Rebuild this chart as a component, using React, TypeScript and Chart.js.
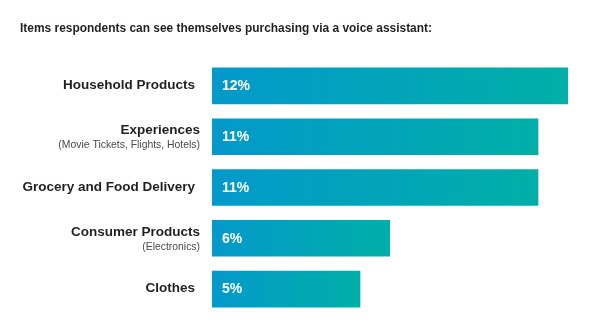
import React, { useEffect, useRef } from "react";
import { Chart, registerables } from "chart.js";

Chart.register(...registerables);

const title = "Items respondents can see themselves purchasing via a voice assistant:";
const categories = [
  "Household Products",
  "Experiences",
  "Grocery and Food Delivery",
  "Consumer Products",
  "Clothes",
];
const subLabels = ["", "(Movie Tickets, Flights, Hotels)", "", "(Electronics)", ""];
const values = [12, 11, 11, 6, 5];
const valueLabels = ["12%", "11%", "11%", "6%", "5%"];

const FONT = "'Liberation Sans', Arial, Helvetica, sans-serif";
const LEFT_COLOR = "#0399cb";
const RIGHT_COLOR = "#00afa7";

const textPlugin = {
  id: "textPlugin",
  afterDatasetsDraw(chart: any) {
    const ctx = chart.ctx as CanvasRenderingContext2D;
    const y = chart.scales.y;
    const x = chart.scales.x;
    ctx.save();
    // title
    ctx.fillStyle = "#231f20";
    ctx.font = `bold 13.5px ${FONT}`;
    ctx.textAlign = "left";
    ctx.textBaseline = "middle";
    ctx.fillText(title, 20, 28.5, 412);

    categories.forEach((cat, i) => {
      const cy = y.getPixelForValue(i);
      const sub = subLabels[i];
      ctx.textBaseline = "middle";
      ctx.textAlign = "right";
      if (sub) {
        ctx.fillStyle = "#231f20";
        ctx.font = `bold 13.5px ${FONT}`;
        ctx.fillText(cat, 200, cy - 6.5);
        ctx.fillStyle = "#4a4a4a";
        ctx.font = `10.4px ${FONT}`;
        ctx.fillText(sub, 200, cy + 8.5);
      } else {
        ctx.fillStyle = "#231f20";
        ctx.font = `bold 13.5px ${FONT}`;
        ctx.fillText(cat, 195, cy - 0.5);
      }
      // value label
      ctx.fillStyle = "#ffffff";
      ctx.font = `bold 14px ${FONT}`;
      ctx.textAlign = "left";
      ctx.fillText(valueLabels[i], x.getPixelForValue(0) + 10, cy + 0.5);
    });
    ctx.restore();
  },
};

export default function App() {
  const ref = useRef<HTMLCanvasElement>(null);
  useEffect(() => {
    document.body.style.margin = "0";
    const canvas = ref.current!;
    const chart = new Chart(canvas, {
      type: "bar",
      data: {
        labels: categories,
        datasets: [
          {
            data: values,
            backgroundColor: (c: any) => {
              const ch = c.chart;
              if (!ch.chartArea || c.dataIndex === undefined) return LEFT_COLOR;
              const xs = ch.scales.x;
              const x0 = xs.getPixelForValue(0);
              const x1 = xs.getPixelForValue(values[c.dataIndex]);
              if (!isFinite(x0) || !isFinite(x1) || x1 <= x0) return LEFT_COLOR;
              const g = ch.ctx.createLinearGradient(x0, 0, x1, 0);
              g.addColorStop(0, LEFT_COLOR);
              g.addColorStop(1, RIGHT_COLOR);
              return g;
            },
            borderWidth: 0,
            categoryPercentage: 0.72,
            barPercentage: 1,
          },
        ],
      },
      options: {
        indexAxis: "y",
        responsive: false,
        animation: false,
        layout: { padding: { left: 212, right: 32, top: 60.5, bottom: 12.5 } },
        plugins: {
          legend: { display: false },
          title: { display: false },
          tooltip: { enabled: false },
        },
        scales: {
          x: { display: false, min: 0, max: 12, grid: { display: false } },
          y: { display: false, grid: { display: false } },
        },
      },
      plugins: [textPlugin],
    });
    return () => chart.destroy();
  }, []);
  return (
    <div style={{ width: 600, height: 327, background: "#fff" }}>
      <canvas ref={ref} width={600} height={327} style={{ display: "block" }} />
    </div>
  );
}
